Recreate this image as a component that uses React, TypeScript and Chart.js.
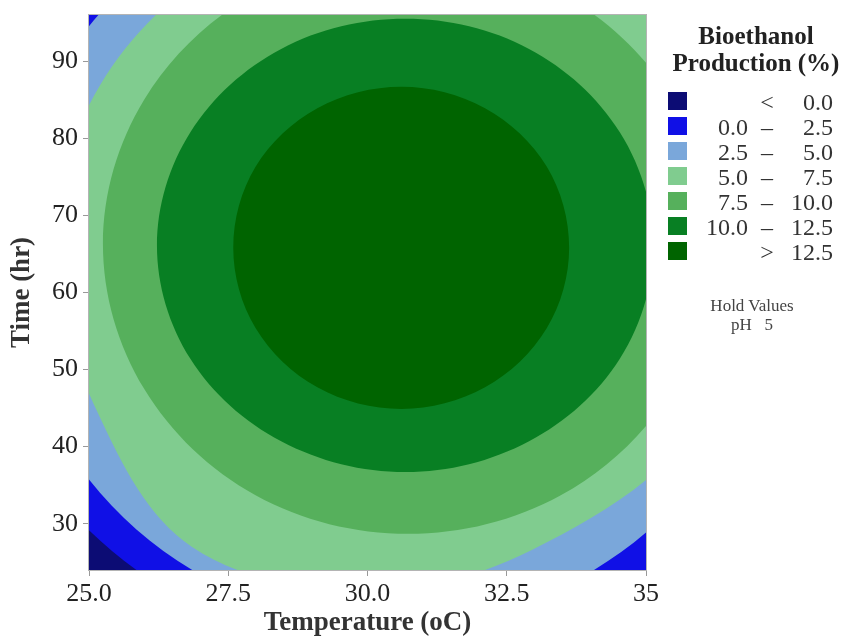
import { useEffect, useRef } from 'react';
import { Chart, registerables } from 'chart.js';

Chart.register(...registerables);

// Axis ticks
const xTickValues = [25, 27.5, 30, 32.5, 35];
const xTickLabels = ['25.0', '27.5', '30.0', '32.5', '35'];
const yTickValues = [30, 40, 50, 60, 70, 80, 90];
const yTickLabels = ['30', '40', '50', '60', '70', '80', '90'];

// Contour boundaries: [Temperature (oC), Time (hr)]
const contour12_5 = [
  [33.62, 65.8], [33.22, 76.3], [32.11, 83.9], [30.61, 86.7], [29.1, 83.9], [27.99, 76.3],
  [27.59, 65.8], [27.99, 55.4], [29.1, 47.7], [30.61, 44.9], [32.11, 47.7], [33.22, 55.4],
];
const contour10 = [
  [35.13, 66.1], [34.53, 80.8], [32.9, 91.6], [30.68, 95.5], [28.45, 91.6], [26.82, 80.8],
  [26.22, 66.1], [26.82, 51.4], [28.45, 40.7], [30.68, 36.7], [32.9, 40.7], [34.53, 51.4],
];
const contour7_5 = [
  [36.21, 66.3], [35.48, 85.0], [33.47, 98.8], [30.73, 103.8], [27.99, 98.8], [25.99, 85.0],
  [25.25, 66.3], [25.99, 47.5], [27.99, 33.7], [30.73, 28.7], [33.47, 33.7], [35.48, 47.5],
];
const contour5 = [
  [36.77, 65.2], [36.0, 88.5], [33.7, 104.0], [30.48, 108.4], [27.43, 102.6], [25.19, 86.8],
  [24.37, 65.2], [25.17, 44.2], [26.85, 27.0], [29.95, 21.2], [32.95, 26.6], [35.9, 42.5],
];
const contour2_5 = [
  [37.34, 65.1], [36.42, 89.3], [33.9, 106.9], [30.46, 113.4], [27.02, 106.9], [24.5, 89.3],
  [23.58, 65.1], [24.5, 41.0], [27.02, 23.3], [30.46, 16.8], [33.9, 23.3], [36.42, 41.0],
];
const contour0 = [
  [38.04, 65.1], [37.03, 91.6], [34.25, 111.1], [30.46, 118.2], [26.67, 111.1], [23.9, 91.6],
  [22.88, 65.1], [23.92, 38.7], [26.84, 19.4], [30.46, 12.0], [34.25, 19.1], [37.03, 38.6],
];

// Regions above each level, innermost first
const contourLevels = [12.5, 10, 7.5, 5, 2.5, 0];
const contourTraces = [contour12_5, contour10, contour7_5, contour5, contour2_5, contour0];
const bandColors = ['#006400', '#087f23', '#56b05c', '#80cc8f', '#7aa7da', '#1010e6'];
const belowZeroColor = '#0c0c74';

// Legend
const legendTitle = ['Bioethanol', 'Production (%)'];
const legendLow = ['', '0.0', '2.5', '5.0', '7.5', '10.0', ''];
const legendSym = ['<', '–', '–', '–', '–', '–', '>'];
const legendHigh = ['0.0', '2.5', '5.0', '7.5', '10.0', '12.5', '12.5'];
const legendColors = ['#0c0c74', '#1010e6', '#7aa7da', '#80cc8f', '#56b05c', '#087f23', '#006400'];
const holdValues = ['Hold Values', 'pH   5'];

const FONT = "'Liberation Serif', 'Times New Roman', serif";

function closeLoop(pts: number[][]) {
  const n = pts.length;
  const ring = [pts[n - 1], ...pts, pts[0], pts[1]];
  return ring.map(([x, y]) => ({ x, y }));
}

const plotBackground = {
  id: 'plotBackground',
  beforeDraw(chart: any) {
    const { ctx, chartArea } = chart;
    ctx.save();
    ctx.fillStyle = belowZeroColor;
    ctx.fillRect(chartArea.left, chartArea.top, chartArea.right - chartArea.left, chartArea.bottom - chartArea.top);
    ctx.restore();
  },
};

const plotFrame = {
  id: 'plotFrame',
  afterDatasetsDraw(chart: any) {
    const { ctx, chartArea } = chart;
    ctx.save();
    ctx.strokeStyle = '#b4b4b4';
    ctx.lineWidth = 1;
    ctx.strokeRect(
      Math.round(chartArea.left) - 0.5,
      Math.round(chartArea.top) - 0.5,
      Math.round(chartArea.right - chartArea.left) + 1,
      Math.round(chartArea.bottom - chartArea.top) + 1
    );
    ctx.restore();
  },
};

export default function App() {
  const canvasRef = useRef<HTMLCanvasElement | null>(null);

  useEffect(() => {
    const canvas = canvasRef.current;
    if (!canvas) return;
    const datasets = contourTraces.map((trace, i) => ({
      label: `> ${contourLevels[i]}`,
      data: closeLoop(trace),
      showLine: true,
      fill: 'shape',
      backgroundColor: bandColors[i],
      borderColor: 'rgba(0,0,0,0)',
      borderWidth: 0,
      pointRadius: 0,
      pointHoverRadius: 0,
      tension: 0.35,
    }));

    const chart = new Chart(canvas, {
      type: 'scatter',
      data: { datasets: datasets as any },
      options: {
        responsive: false,
        animation: false,
        events: [],
        layout: { padding: { top: 15, right: 198, bottom: 0, left: 0 } },
        elements: { line: { capBezierPoints: false } as any },
        plugins: { legend: { display: false }, tooltip: { enabled: false } },
        scales: {
          x: {
            type: 'linear',
            min: 25,
            max: 35,
            afterBuildTicks: (s: any) => {
              s.ticks = xTickValues.map((v) => ({ value: v }));
            },
            afterFit: (s: any) => {
              s.height = 69;
              s.paddingLeft = 0;
              s.paddingRight = 0;
            },
            ticks: {
              autoSkip: false,
              maxRotation: 0,
              padding: 3,
              color: '#222',
              font: { family: FONT, size: 26 },
              callback: (_v: any, i: number) => xTickLabels[i],
            },
            grid: { drawOnChartArea: false, drawTicks: true, tickLength: 6, tickColor: '#999', color: '#999' },
            border: { display: false },
            title: {
              display: true,
              text: 'Temperature (oC)',
              color: '#333',
              font: { family: FONT, size: 27, weight: 'bold' },
              padding: { top: 0, bottom: 0 },
            },
          },
          y: {
            type: 'linear',
            min: 24,
            max: 96,
            afterBuildTicks: (s: any) => {
              s.ticks = yTickValues.map((v) => ({ value: v }));
            },
            afterFit: (s: any) => {
              s.width = 89;
              s.paddingTop = 0;
              s.paddingBottom = 0;
            },
            ticks: {
              autoSkip: false,
              padding: 5,
              color: '#222',
              font: { family: FONT, size: 26 },
              callback: (_v: any, i: number) => yTickLabels[i],
            },
            grid: { drawOnChartArea: false, drawTicks: true, tickLength: 6, tickColor: '#999', color: '#999' },
            border: { display: false },
            title: {
              display: true,
              text: 'Time (hr)',
              color: '#333',
              font: { family: FONT, size: 27, weight: 'bold' },
              padding: { top: 6, bottom: 0 },
            },
          },
        },
      },
      plugins: [plotBackground, plotFrame],
    } as any);

    return () => chart.destroy();
  }, []);

  return (
    <div
      style={{
        position: 'fixed',
        left: 0,
        top: 0,
        width: 844,
        height: 639,
        background: '#fff',
        fontFamily: FONT,
        overflow: 'hidden',
      }}
    >
      <canvas ref={canvasRef} width={844} height={639} style={{ position: 'absolute', left: 0, top: 0, width: 844, height: 639 }} />
      <div
        style={{
          position: 'absolute',
          left: 666,
          width: 180,
          top: 22,
          textAlign: 'center',
          fontWeight: 'bold',
          fontSize: 25,
          lineHeight: '27px',
          color: '#222',
        }}
      >
        {legendTitle.map((t) => (
          <div key={t} style={{ whiteSpace: 'nowrap' }}>{t}</div>
        ))}
      </div>
      {legendColors.map((c, i) => (
        <div key={i}>
          <div
            style={{
              position: 'absolute',
              left: 668,
              top: 92 + 25 * i,
              width: 19,
              height: 18,
              background: c,
            }}
          />
          <div
            style={{
              position: 'absolute',
              right: 844 - 748,
              top: 90 + 25 * i,
              fontSize: 24,
              lineHeight: '25px',
              color: '#333',
              whiteSpace: 'nowrap',
            }}
          >
            {legendLow[i]}
          </div>
          <div
            style={{
              position: 'absolute',
              left: 752,
              width: 30,
              top: 90 + 25 * i,
              fontSize: 24,
              lineHeight: '25px',
              color: '#333',
              textAlign: 'center',
            }}
          >
            {legendSym[i]}
          </div>
          <div
            style={{
              position: 'absolute',
              right: 844 - 833,
              top: 90 + 25 * i,
              fontSize: 24,
              lineHeight: '25px',
              color: '#333',
              whiteSpace: 'nowrap',
            }}
          >
            {legendHigh[i]}
          </div>
        </div>
      ))}
      <div
        style={{
          position: 'absolute',
          left: 672,
          width: 160,
          top: 296,
          textAlign: 'center',
          fontSize: 17,
          lineHeight: '19px',
          color: '#444',
          whiteSpace: 'pre',
        }}
      >
        {holdValues.map((t) => (
          <div key={t}>{t}</div>
        ))}
      </div>
    </div>
  );
}
